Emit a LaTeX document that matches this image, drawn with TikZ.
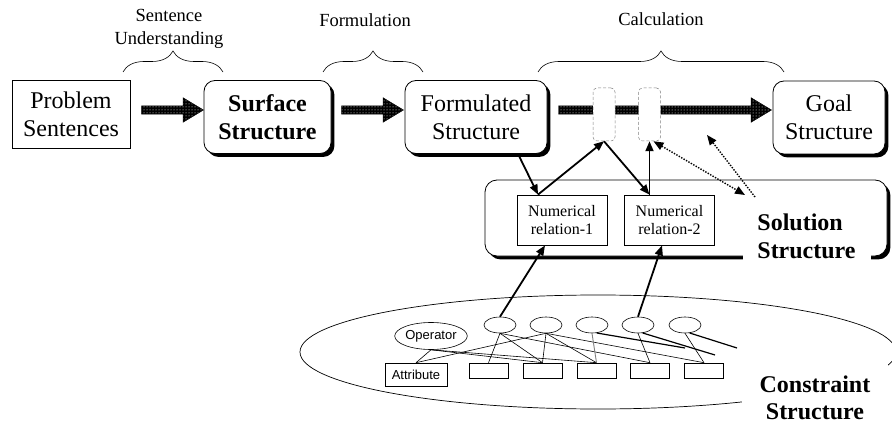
\documentclass[tikz,border=0pt]{standalone}
\usepackage{fontspec}
\setmainfont{Liberation Serif}
\newfontfamily\arialfont{Liberation Sans}
\usetikzlibrary{shapes.geometric,shapes.arrows,patterns,shadows,decorations.pathreplacing,arrows.meta}

\tikzset{
  plainbox/.style={draw, line width=0.8pt, fill=white, align=center, inner sep=0pt,
    font=\fontsize{24pt}{28pt}\selectfont},
  stagebox/.style={plainbox, rounded corners=11pt, minimum height=73pt,
    drop shadow={shadow xshift=3.4pt, shadow yshift=-3.4pt, fill=black, opacity=1}},
  fatarrow/.style={single arrow, draw=black, line width=0.4pt, inner xsep=0pt, inner ysep=4pt,
    minimum width=24pt, single arrow head extend=8pt, single arrow tip angle=62,
    preaction={fill=black}, pattern=dots, pattern color=white},
  calcstep/.style={draw=gray, densely dashed, line width=0.5pt, rounded corners=4pt,
    fill=white, minimum width=22pt, minimum height=53pt, inner sep=0pt},
  bracket/.style={decorate, decoration={brace, amplitude=21pt}, line width=0.6pt},
  phase/.style={align=center, font=\fontsize{18.5pt}{23pt}\selectfont},
  relbox/.style={draw, line width=0.8pt, fill=white, align=center, inner sep=0pt,
    minimum width=90pt, minimum height=50pt, font=\fontsize{16pt}{18.5pt}\selectfont},
  biglabel/.style={fill=white, inner sep=8pt, font=\bfseries\fontsize{24pt}{27.5pt}\selectfont},
  opnode/.style={draw, ellipse, line width=0.6pt, fill=white, inner sep=0pt,
    minimum width=32pt, minimum height=16pt},
  slot/.style={draw, line width=0.6pt, fill=white, minimum width=39pt, minimum height=15pt, inner sep=0pt},
  wire/.style={line width=0.6pt},
  link/.style={line width=1.8pt, -{Triangle[length=10pt,width=8pt]}},
  dotlink/.style={line width=1.4pt, dash pattern=on 1.4pt off 1.4pt, -{Triangle[length=10pt,width=8pt]}}
}

\begin{document}
\begin{tikzpicture}[x=1pt,y=-1pt]
\useasboundingbox (0,0) rectangle (892,425);

% stages
\node[plainbox, minimum width=118pt, minimum height=68pt] (ps) at (71,114) {Problem\\Sentences};
\node[stagebox, minimum width=127pt, font=\bfseries\fontsize{24pt}{28pt}\selectfont] (ss) at (267.5,117) {Surface\\Structure};
\node[stagebox, minimum width=142pt] (fs) at (476,117) {Formulated\\Structure};
\node[stagebox, minimum width=112pt] (gs) at (829,117.5) {Goal\\Structure};

\node[fatarrow, minimum height=62pt] (a1) at (169,110) {};
\node[fatarrow, minimum height=62pt] (a2) at (369,110) {};
\node[fatarrow, minimum height=213pt] (a3) at (661.5,110) {};
\node[calcstep] (c1) at (604,114.5) {};
\node[calcstep] (c2) at (649.5,114.5) {};

\draw[bracket] (123,72) -- (223,72);
\draw[bracket] (323,72) -- (423,72);
\draw[bracket] (538,72) -- (784,72);
\node[phase] (lsu) at (169,29) {Sentence\\Understanding};
\node[phase] (lfo) at (365,20) {Formulation};
\node[phase] (lca) at (661,19) {Calculation};

% solution structure
\node[stagebox, minimum width=402pt, minimum height=76pt, rounded corners=12pt] (sol) at (686,218) {};
\node[relbox] (nr1) at (562,220) {Numerical\\relation-1};
\node[relbox] (nr2) at (669.5,220) {Numerical\\relation-2};
\node[biglabel, align=left, minimum width=128pt] (soll) at (806.5,236.5) {Solution\\Structure};

% constraint structure
\node[draw, ellipse, line width=0.7pt, minimum width=596pt, minimum height=114pt] (con) at (598,352) {};
\node[opnode, minimum width=62pt, minimum height=27pt, font=\arialfont\fontsize{13pt}{15pt}\selectfont] (opr) at (431,336) {Operator};
\node[slot, minimum width=62pt, minimum height=23pt, font=\arialfont\fontsize{13pt}{15pt}\selectfont] (attr) at (416,374.5) {Attribute};
\foreach \i/\x in {1/500,2/546,3/592,4/638,5/685}
  \node[opnode] (e\i) at (\x,325) {};
\foreach \i/\x in {1/488.5,2/542.5,3/596.5,4/650,5/704}
  \node[slot] (r\i) at (\x,370.5) {};
\coordinate (t3) at (685,348);
\coordinate (t4) at (715,355);
\coordinate (t5) at (737,348);

\foreach \a/\b in {opr/attr,opr/r2,opr/r3,e2/attr,e1/r1,e1/r2,e1/r4,e2/r2,e2/r3,e2/r5,e4/r4,e5/r5}
  \draw[wire] (\a.south) -- (\b.north);
\draw[wire, gray, line width=0.9pt] (e3.south) -- (r3.north);
\draw[line width=1.2pt] (e3.-60) -- (t3);
\draw[line width=1.2pt] (e4.-60) -- (t4);
\draw[line width=1.2pt] (e5.-60) -- (t5);
\node[biglabel, align=center, minimum width=146pt, inner ysep=16pt] (conl) at (815,398) {Constraint\\Structure};

% links
\coordinate (d1) at (745,195);
\coordinate (d2) at (755,197);
\coordinate (d3) at (707,135);
\draw[link] ([xshift=42pt]fs.south) -- ([xshift=-24pt]nr1.north);
\draw[link] ([xshift=-24pt]nr1.north) -- (c1.south);
\draw[link] (c1.south) -- ([xshift=-20pt]nr2.north);
\draw[link] ([xshift=-20pt]nr2.north) -- (c2.south);
\draw[dotlink, {Triangle[length=10pt,width=8pt]}-{Triangle[length=10pt,width=8pt]}] ([xshift=4pt]c2.south) -- (d1);
\draw[dotlink] (d2) -- (d3);
\draw[link] (e1.north) -- ([xshift=-17pt]nr1.south);
\draw[link] (e4.north) -- ([xshift=-7.5pt]nr2.south);
\end{tikzpicture}
\end{document}
